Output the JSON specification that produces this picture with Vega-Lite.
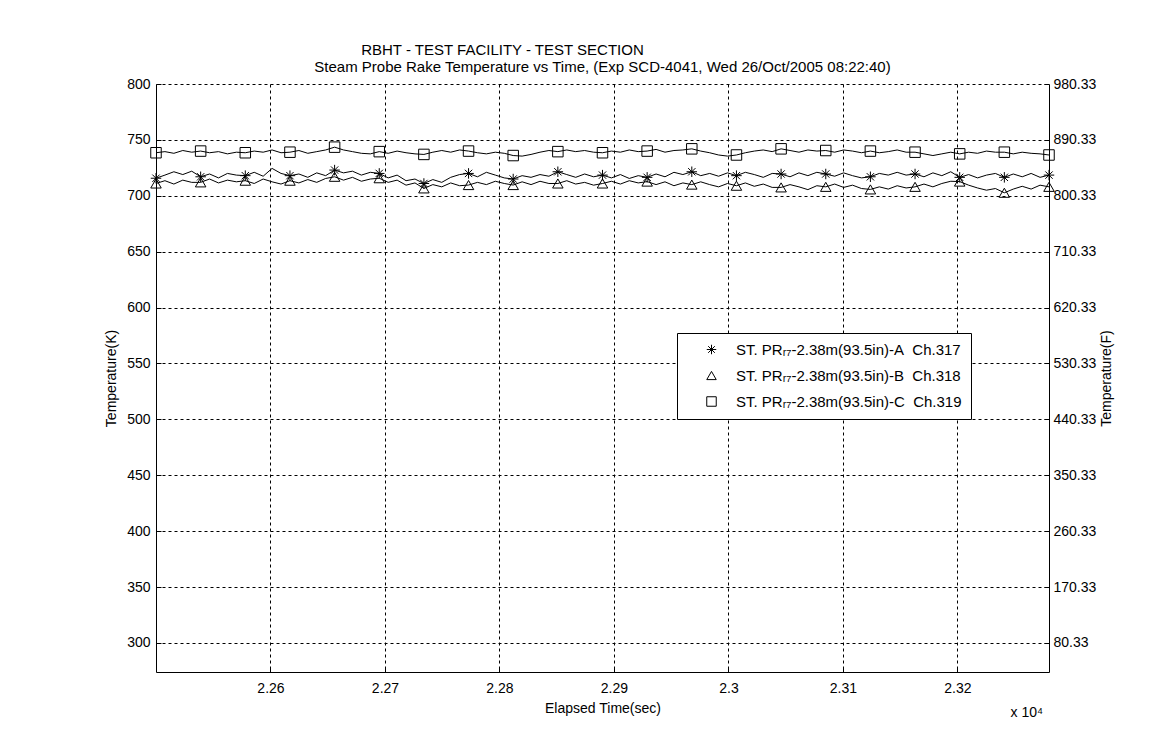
{
  "$schema": "https://vega.github.io/schema/vega-lite/v6.json",
  "width": 893,
  "height": 588,
  "autosize": {"type": "none"},
  "padding": {"left": 156, "top": 84, "right": 104, "bottom": 79},
  "background": "white",
  "title": {
    "text": ["RBHT - TEST FACILITY - TEST SECTION\u00a0\u00a0\u00a0\u00a0\u00a0\u00a0\u00a0\u00a0\u00a0\u00a0\u00a0\u00a0\u00a0\u00a0\u00a0\u00a0\u00a0\u00a0\u00a0\u00a0\u00a0\u00a0\u00a0\u00a0\u00a0\u00a0\u00a0\u00a0\u00a0\u00a0\u00a0\u00a0\u00a0\u00a0\u00a0\u00a0\u00a0\u00a0\u00a0\u00a0\u00a0\u00a0\u00a0\u00a0\u00a0\u00a0\u00a0\u00a0\u200b", "Steam Probe Rake Temperature vs Time, (Exp SCD-4041, Wed 26/Oct/2005 08:22:40)"],
    "fontSize": 15,
    "fontWeight": "normal",
    "font": "Liberation Sans",
    "color": "black",
    "anchor": "middle",
    "lineHeight": 17,
    "offset": 2
  },
  "data": {"values": [
    {"t":22500,"A":715.7,"B":711,"C":738.5,"m":1},
    {"t":22507.8,"A":718.5,"B":713.5,"C":739.5,"m":0},
    {"t":22515.6,"A":721.5,"B":710.5,"C":738,"m":0},
    {"t":22523.4,"A":719,"B":714,"C":740.5,"m":0},
    {"t":22531.2,"A":722,"B":712,"C":739,"m":0},
    {"t":22539,"A":717,"B":712,"C":740,"m":1},
    {"t":22546.8,"A":719.5,"B":715,"C":738.5,"m":0},
    {"t":22554.6,"A":716,"B":711.5,"C":739.5,"m":0},
    {"t":22562.4,"A":720,"B":714,"C":737.5,"m":0},
    {"t":22570.2,"A":718.5,"B":712.5,"C":739,"m":0},
    {"t":22578,"A":718,"B":713.5,"C":738.5,"m":1},
    {"t":22585.8,"A":721,"B":711,"C":740,"m":0},
    {"t":22593.6,"A":717.5,"B":715,"C":739,"m":0},
    {"t":22601.4,"A":724.5,"B":712.5,"C":741,"m":0},
    {"t":22609.2,"A":720,"B":710.5,"C":738.5,"m":0},
    {"t":22617,"A":718,"B":713.5,"C":739,"m":1},
    {"t":22624.8,"A":719.5,"B":711.5,"C":740.5,"m":0},
    {"t":22632.6,"A":716.5,"B":714.5,"C":738,"m":0},
    {"t":22640.4,"A":720.5,"B":712,"C":739.5,"m":0},
    {"t":22648.2,"A":718,"B":715.5,"C":741,"m":0},
    {"t":22656,"A":723,"B":717,"C":743.5,"m":1},
    {"t":22663.8,"A":720.5,"B":714,"C":741,"m":0},
    {"t":22671.6,"A":722,"B":716.5,"C":739.5,"m":0},
    {"t":22679.4,"A":718.5,"B":713,"C":738,"m":0},
    {"t":22687.2,"A":721,"B":715,"C":737.5,"m":0},
    {"t":22695,"A":720,"B":715.7,"C":739.5,"m":1},
    {"t":22702.8,"A":716,"B":712,"C":738,"m":0},
    {"t":22710.6,"A":718.5,"B":714,"C":740,"m":0},
    {"t":22718.4,"A":713.5,"B":709.5,"C":738.5,"m":0},
    {"t":22726.2,"A":715,"B":711.5,"C":737.5,"m":0},
    {"t":22734,"A":711,"B":706.6,"C":737,"m":1},
    {"t":22741.8,"A":714.5,"B":710,"C":739,"m":0},
    {"t":22749.6,"A":712,"B":708,"C":740.5,"m":0},
    {"t":22757.4,"A":716.5,"B":711.5,"C":739,"m":0},
    {"t":22765.2,"A":719,"B":709,"C":741,"m":0},
    {"t":22773,"A":720,"B":709.6,"C":740,"m":1},
    {"t":22780.8,"A":717,"B":712,"C":738.5,"m":0},
    {"t":22788.6,"A":721,"B":710,"C":737.5,"m":0},
    {"t":22796.4,"A":718.5,"B":713,"C":739,"m":0},
    {"t":22804.2,"A":716,"B":711,"C":738,"m":0},
    {"t":22812,"A":715,"B":709.6,"C":736,"m":1},
    {"t":22819.8,"A":718,"B":712.5,"C":735.5,"m":0},
    {"t":22827.6,"A":716.5,"B":710,"C":737,"m":0},
    {"t":22835.4,"A":719,"B":713,"C":739,"m":0},
    {"t":22843.2,"A":717.5,"B":711,"C":740.5,"m":0},
    {"t":22851,"A":721.5,"B":711,"C":739.5,"m":1},
    {"t":22858.8,"A":719,"B":713.5,"C":741,"m":0},
    {"t":22866.6,"A":716.5,"B":710.5,"C":739.5,"m":0},
    {"t":22874.4,"A":719.5,"B":712,"C":740.5,"m":0},
    {"t":22882.2,"A":717,"B":709.5,"C":739,"m":0},
    {"t":22890,"A":718.5,"B":711,"C":738.5,"m":1},
    {"t":22897.8,"A":716,"B":713,"C":740,"m":0},
    {"t":22905.6,"A":719,"B":710.5,"C":739,"m":0},
    {"t":22913.4,"A":715.5,"B":713.5,"C":741,"m":0},
    {"t":22921.2,"A":718,"B":711.5,"C":739.5,"m":0},
    {"t":22929,"A":716.5,"B":712.7,"C":740,"m":1},
    {"t":22936.8,"A":719.5,"B":710,"C":741.5,"m":0},
    {"t":22944.6,"A":717,"B":712.5,"C":739,"m":0},
    {"t":22952.4,"A":721,"B":709,"C":740.5,"m":0},
    {"t":22960.2,"A":719,"B":711.5,"C":741,"m":0},
    {"t":22968,"A":721.5,"B":710,"C":742,"m":1},
    {"t":22975.8,"A":718,"B":712.5,"C":740,"m":0},
    {"t":22983.6,"A":720,"B":710,"C":738.5,"m":0},
    {"t":22991.4,"A":717.5,"B":708,"C":736.5,"m":0},
    {"t":22999.2,"A":720.5,"B":711,"C":735.5,"m":0},
    {"t":23007,"A":718,"B":709,"C":736.5,"m":1},
    {"t":23014.8,"A":721,"B":711.5,"C":738.5,"m":0},
    {"t":23022.6,"A":719,"B":708.5,"C":740,"m":0},
    {"t":23030.4,"A":716.5,"B":710.5,"C":741,"m":0},
    {"t":23038.2,"A":720,"B":707.5,"C":739.5,"m":0},
    {"t":23046,"A":719.5,"B":707.5,"C":742,"m":1},
    {"t":23053.8,"A":717,"B":710,"C":740.5,"m":0},
    {"t":23061.6,"A":720.5,"B":708,"C":739,"m":0},
    {"t":23069.4,"A":718,"B":705.5,"C":741,"m":0},
    {"t":23077.2,"A":721,"B":709,"C":740,"m":0},
    {"t":23085,"A":719.5,"B":708,"C":740.5,"m":1},
    {"t":23092.8,"A":717.5,"B":710.5,"C":739,"m":0},
    {"t":23100.6,"A":720.5,"B":707.5,"C":741,"m":0},
    {"t":23108.4,"A":718,"B":709.5,"C":740,"m":0},
    {"t":23116.2,"A":716,"B":706.5,"C":738.5,"m":0},
    {"t":23124,"A":717,"B":705.7,"C":740,"m":1},
    {"t":23131.8,"A":720,"B":708,"C":738.5,"m":0},
    {"t":23139.6,"A":718.5,"B":706,"C":739.5,"m":0},
    {"t":23147.4,"A":721,"B":709,"C":741,"m":0},
    {"t":23155.2,"A":718.5,"B":707,"C":739,"m":0},
    {"t":23163,"A":719.5,"B":708,"C":739,"m":1},
    {"t":23170.8,"A":717,"B":710.5,"C":737.5,"m":0},
    {"t":23178.6,"A":720.5,"B":708,"C":736,"m":0},
    {"t":23186.4,"A":718,"B":711,"C":737.5,"m":0},
    {"t":23194.2,"A":721.5,"B":713,"C":739,"m":0},
    {"t":23202,"A":716.5,"B":712.7,"C":737.5,"m":1},
    {"t":23209.8,"A":719,"B":709.5,"C":739,"m":0},
    {"t":23217.6,"A":716,"B":707,"C":738,"m":0},
    {"t":23225.4,"A":718.5,"B":705,"C":740,"m":0},
    {"t":23233.2,"A":720,"B":706.5,"C":739,"m":0},
    {"t":23241,"A":716.5,"B":702.7,"C":739,"m":1},
    {"t":23248.8,"A":719.5,"B":706,"C":737.5,"m":0},
    {"t":23256.6,"A":717,"B":708.5,"C":739,"m":0},
    {"t":23264.4,"A":720,"B":706,"C":738,"m":0},
    {"t":23272.2,"A":716.5,"B":709.5,"C":737.5,"m":0},
    {"t":23280,"A":718.5,"B":708,"C":736.5,"m":1}
  ]},
  "layer": [
    {
      "layer": [
        {
          "transform": [{"fold": ["A", "B", "C"], "as": ["series", "temp"]}],
          "mark": {"type": "line", "color": "black", "strokeWidth": 1, "clip": true},
          "encoding": {
            "x": {"field": "t", "type": "quantitative",
              "scale": {"domain": [22500, 23280], "nice": false, "zero": false},
              "axis": {"values": [22600, 22700, 22800, 22900, 23000, 23100, 23200],
                "labelExpr": "'' + datum.value / 10000",
                "title": "Elapsed Time(sec)", "grid": true, "tickSize": -5, "labelPadding": 14,
                "titlePadding": 6, "labelFlush": false}},
            "y": {"field": "temp", "type": "quantitative",
              "scale": {"domain": [274, 800], "nice": false, "zero": false},
              "axis": {"values": [300, 350, 400, 450, 500, 550, 600, 650, 700, 750, 800],
                "title": "Temperature(K)", "grid": true, "tickSize": -5, "labelPadding": 11,
                "titlePadding": 8, "labelFlush": false}},
            "detail": {"field": "series"}
          }
        },
        {
          "transform": [{"fold": ["A", "B", "C"], "as": ["series", "temp"]}, {"filter": "datum.m == 1"}],
          "mark": {"type": "point", "filled": false, "color": "black", "strokeWidth": 1, "opacity": 1},
          "encoding": {
            "x": {"field": "t", "type": "quantitative"},
            "y": {"field": "temp", "type": "quantitative"},
            "shape": {"field": "series", "type": "nominal",
              "scale": {"domain": ["A", "B", "C"], "range": ["M0,-1L0,1M-1,0L1,0M-0.7,-0.7L0.7,0.7M-0.7,0.7L0.7,-0.7", "triangle-up", "square"]},
              "legend": {
                "title": null,
                "orient": "none",
                "legendX": 521,
                "legendY": 249,
                "labelExpr": "datum.label == 'A' ? 'ST. PR\u1d63\u2087-2.38m(93.5in)-A\u00a0\u00a0Ch.317' : datum.label == 'B' ? 'ST. PR\u1d63\u2087-2.38m(93.5in)-B\u00a0\u00a0Ch.318' : 'ST. PR\u1d63\u2087-2.38m(93.5in)-C\u00a0\u00a0Ch.319'"
              }
            },
            "size": {"value": 110}
          }
        },
        {
          "data": {"values": [{"label": "x 10\u2074"}]},
          "mark": {"type": "text", "align": "right", "baseline": "middle", "fontSize": 14, "color": "black", "dx": -6},
          "encoding": {
            "text": {"field": "label"},
            "x": {"datum": 23280, "type": "quantitative"},
            "y": {"datum": 237, "type": "quantitative"}
          }
        }
      ]
    },
    {
      "data": {"values": [{"f": 980.33}]},
      "mark": {"type": "rule", "strokeOpacity": 0},
      "encoding": {
        "y": {"field": "f", "type": "quantitative",
          "scale": {"domain": [33.53, 980.33], "nice": false, "zero": false},
          "axis": {"orient": "right", "values": [80.33, 170.33, 260.33, 350.33, 440.33, 530.33, 620.33, 710.33, 800.33, 890.33, 980.33],
            "format": ".2f",
            "title": "Temperature(F)", "grid": false, "tickSize": -5, "labelPadding": 9,
            "titleAngle": 270, "titleBaseline": "top", "titlePadding": 4, "labelFlush": false}}
      }
    }
  ],
  "resolve": {"scale": {"y": "independent"}},
  "config": {
    "font": "Liberation Sans",
    "view": {"stroke": null},
    "axis": {
      "labelFontSize": 14, "titleFontSize": 14, "titleFontWeight": "normal",
      "labelColor": "black", "titleColor": "black",
      "domainColor": "black", "domainWidth": 1,
      "tickColor": "black", "tickWidth": 1,
      "gridColor": "black", "gridDash": [3, 3], "gridOpacity": 1, "gridWidth": 1
    },
    "legend": {
      "strokeColor": "black", "fillColor": "white", "padding": 9,
      "labelFontSize": 15, "labelColor": "black", "labelLimit": 400,
      "symbolStrokeColor": "black", "symbolStrokeWidth": 1, "symbolType": "square",
      "symbolSize": 90, "symbolOffset": 18, "labelOffset": 17, "rowPadding": 10,
      "cornerRadius": 0
    }
  }
}
